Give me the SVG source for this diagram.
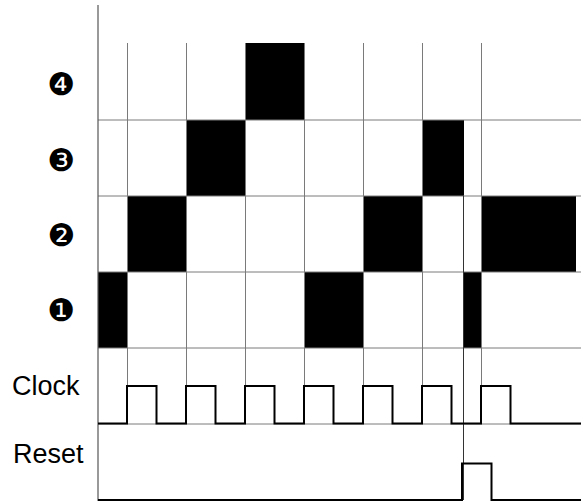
<svg xmlns="http://www.w3.org/2000/svg" width="581" height="502" viewBox="0 0 581 502">
<style>
.grid{stroke:#7a7a7a;stroke-width:1;fill:none}
.blk{fill:#000}
.wave{stroke:#000;stroke-width:2;fill:none}
.lbl{font-family:"Liberation Sans",Arial,sans-serif;font-size:27px;fill:#000}
.num{font-family:"DejaVu Sans",sans-serif;font-size:31px;fill:#000;text-anchor:middle}
</style>
<rect width="581" height="502" fill="#fff"/>
<g id="blocks">
<rect class="blk" x="245" y="43" width="59" height="77"/>
<rect class="blk" x="186" y="120" width="59" height="76"/>
<rect class="blk" x="422" y="120" width="42" height="76"/>
<rect class="blk" x="127" y="196" width="59" height="76"/>
<rect class="blk" x="363" y="196" width="59" height="76"/>
<rect class="blk" x="481" y="196" width="95" height="76"/>
<rect class="blk" x="98" y="272" width="29" height="76"/>
<rect class="blk" x="304" y="272" width="59" height="76"/>
<rect class="blk" x="464" y="272" width="17" height="76"/>
</g>
<g id="grid">
<path class="grid" d="M127.5,43V424M186.5,43V424M245.5,43V424M304.5,43V424M363.5,43V424M422.5,43V424M481.5,43V424"/>
<path class="grid" d="M98,120H581M98,196H581M98,272H581M98,348H581M98,424H581"/>
<path d="M463.5,196V500" stroke="#333" stroke-width="1"/>
<path d="M98,5V501" stroke="#555" stroke-width="1.2"/>
</g>
<g id="clock">
<path class="wave" d="M98,423.5H127V386H156.5V423.5H186V386H215.5V423.5H245V386H274.5V423.5H304V386H333.5V423.5H363V386H392.5V423.5H422V386H451.5V423.5H481V386H510.5V423.5H581"/>
</g>
<g id="reset">
<path class="wave" d="M98,500H462V463.5H491.5V500H581"/>
</g>
<g id="labels">
<text class="num" x="61.5" y="95">❹</text>
<text class="num" x="61.5" y="171">❸</text>
<text class="num" x="61.5" y="246">❷</text>
<text class="num" x="61.5" y="321">❶</text>
<text class="lbl" x="12" y="395">Clock</text>
<text class="lbl" x="13" y="463">Reset</text>
</g>
</svg>
